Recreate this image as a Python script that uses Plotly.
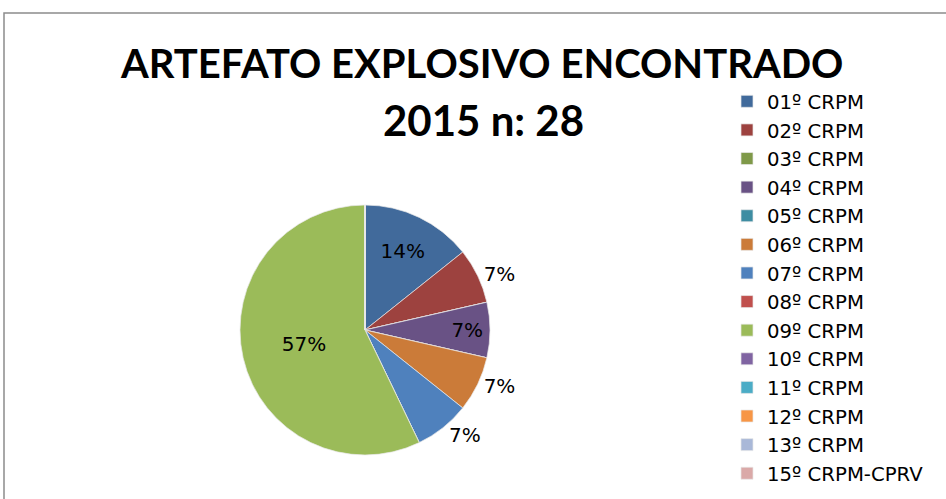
import plotly.graph_objects as go

categories = ["01º CRPM", "02º CRPM", "03º CRPM", "04º CRPM", "05º CRPM", "06º CRPM",
              "07º CRPM", "08º CRPM", "09º CRPM", "10º CRPM", "11º CRPM", "12º CRPM",
              "13º CRPM", "15º CRPM-CPRV"]
values = [4, 2, 0, 2, 0, 2, 2, 0, 16, 0, 0, 0, 0, 0]
colors = ["#416A9B", "#9D423F", "#7F9949", "#695285", "#3E8DA2", "#CB7B39",
          "#4F81BD", "#C0504D", "#9BBB59", "#8064A2", "#4BACC6", "#F79646",
          "#A9B8D8", "#DAA9A8"]
label_pos = ["inside", "outside", "inside", "inside", "inside", "outside",
             "outside", "inside", "inside", "inside", "inside", "inside",
             "inside", "inside"]
title_lines = ["ARTEFATO EXPLOSIVO ENCONTRADO", "2015 n: 28"]

total = sum(values)
texts = [f"{round(v / total * 100)}%" if v > 0 else "" for v in values]

W, H = 946, 499
cx, cy, r = 365, 330, 125
FONT = "DejaVu Sans"

fig = go.Figure(go.Pie(
    labels=categories,
    values=values,
    text=texts,
    textinfo="text",
    textposition=label_pos,
    insidetextorientation="horizontal",
    outsidetextfont=dict(size=20, color="black", family=FONT),
    insidetextfont=dict(size=20, color="black", family=FONT),
    marker=dict(colors=colors, line=dict(color="#E8E8E8", width=0.7)),
    sort=False,
    direction="clockwise",
    rotation=0,
    domain=dict(x=[(cx - r) / W, (cx + r) / W], y=[1 - (cy + r) / H, 1 - (cy - r) / H]),
    showlegend=True,
))

fig.update_layout(
    width=W, height=H,
    margin=dict(l=0, r=0, t=0, b=0, autoexpand=False),
    paper_bgcolor="white",
    plot_bgcolor="white",
    font=dict(family=FONT, color="black"),
    annotations=[
        dict(text=f"<b>{title_lines[0]}</b>", x=481 / W, y=1 - 63 / H, xref="paper", yref="paper",
             xanchor="center", yanchor="middle", showarrow=False,
             font=dict(size=40, family="Lato", color="black")),
        dict(text=f"<b>{title_lines[1]}</b>", x=483 / W, y=1 - 120 / H, xref="paper", yref="paper",
             xanchor="center", yanchor="middle", showarrow=False,
             font=dict(size=42, family="Lato", color="black")),
    ],
    legend=dict(
        x=727 / W, xanchor="left",
        y=1 - 82 / H, yanchor="top",
        font=dict(size=19.7, family=FONT, color="black"),
        bgcolor="rgba(0,0,0,0)",
        itemclick=False,
        traceorder="normal",
    ),
    shapes=[dict(type="rect", xref="paper", yref="paper",
                 x0=4 / W, x1=1.02, y0=-0.02, y1=1 - 13 / H,
                 line=dict(color="#8C8C8C", width=1.5))],
)

fig.write_html("out.html", config={"displayModeBar": False},
               post_script="document.body.style.margin='0';")
